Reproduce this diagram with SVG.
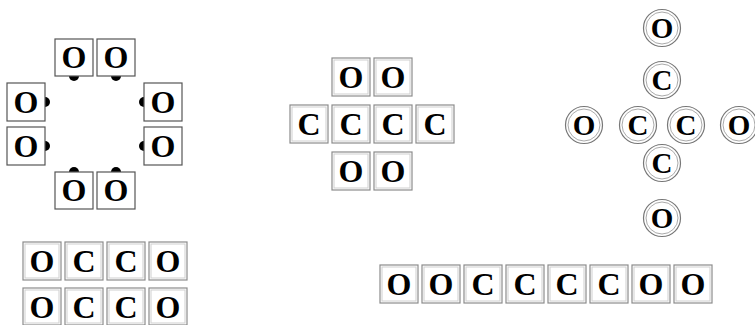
<svg xmlns="http://www.w3.org/2000/svg" width="755" height="325" viewBox="0 0 755 325">
<style>
.bg{fill:#fff}
.bo{fill:#fff;stroke:#8c8c8c;stroke-width:1.2}
.bi{fill:none;stroke:#cfcfcf;stroke-width:1}
.bd{fill:#fff;stroke:#555;stroke-width:1.2}
.co{fill:#fff;stroke:#777;stroke-width:1.2}
.ci{fill:none;stroke:#aaa;stroke-width:1}
.dot{fill:#000}
text{font-family:"Liberation Serif","Times New Roman",serif;font-weight:bold;font-size:32px;text-anchor:middle;fill:#000}
text.s{font-size:29px}
</style>
<rect class="bg" x="0" y="0" width="755" height="325"/>
<g id="connectors">
<circle class="dot" cx="74" cy="76" r="5"/>
<circle class="dot" cx="116" cy="76" r="5"/>
<circle class="dot" cx="45" cy="102" r="5"/>
<circle class="dot" cx="45" cy="146" r="5"/>
<circle class="dot" cx="144" cy="102" r="5"/>
<circle class="dot" cx="144" cy="146" r="5"/>
<circle class="dot" cx="74" cy="172" r="5"/>
<circle class="dot" cx="116" cy="172" r="5"/>
</g>
<!-- ring of O -->
<g id="ring-o1"><rect class="bd" x="55" y="39" width="38" height="37"/><text x="74" y="68">O</text></g>
<g id="ring-o2"><rect class="bd" x="97" y="39" width="38" height="37"/><text x="116" y="68">O</text></g>
<g id="ring-o3"><rect class="bd" x="7" y="83" width="38" height="38"/><text x="26" y="113">O</text></g>
<g id="ring-o4"><rect class="bd" x="7" y="127" width="38" height="38"/><text x="26" y="157">O</text></g>
<g id="ring-o5"><rect class="bd" x="144" y="83" width="38" height="38"/><text x="163" y="113">O</text></g>
<g id="ring-o6"><rect class="bd" x="144" y="127" width="38" height="38"/><text x="163" y="157">O</text></g>
<g id="ring-o7"><rect class="bd" x="55" y="172" width="38" height="37"/><text x="74" y="201">O</text></g>
<g id="ring-o8"><rect class="bd" x="97" y="172" width="38" height="37"/><text x="116" y="201">O</text></g>
<!-- middle cross -->
<g id="mid-o1"><rect class="bo" x="332" y="58" width="38" height="38"/><rect class="bi" x="334" y="60" width="34" height="34"/><text x="351" y="88">O</text></g>
<g id="mid-o2"><rect class="bo" x="374" y="58" width="38" height="38"/><rect class="bi" x="376" y="60" width="34" height="34"/><text x="393" y="88">O</text></g>
<g id="mid-c1"><rect class="bo" x="290" y="105" width="38" height="38"/><rect class="bi" x="292" y="107" width="34" height="34"/><text x="309" y="135">C</text></g>
<g id="mid-c2"><rect class="bo" x="332" y="105" width="38" height="38"/><rect class="bi" x="334" y="107" width="34" height="34"/><text x="351" y="135">C</text></g>
<g id="mid-c3"><rect class="bo" x="374" y="105" width="38" height="38"/><rect class="bi" x="376" y="107" width="34" height="34"/><text x="393" y="135">C</text></g>
<g id="mid-c4"><rect class="bo" x="416" y="105" width="38" height="38"/><rect class="bi" x="418" y="107" width="34" height="34"/><text x="435" y="135">C</text></g>
<g id="mid-o3"><rect class="bo" x="332" y="152" width="38" height="38"/><rect class="bi" x="334" y="154" width="34" height="34"/><text x="351" y="182">O</text></g>
<g id="mid-o4"><rect class="bo" x="374" y="152" width="38" height="38"/><rect class="bi" x="376" y="154" width="34" height="34"/><text x="393" y="182">O</text></g>
<!-- circles -->
<g id="cir-o1"><circle class="co" cx="662" cy="28" r="18.5"/><circle class="ci" cx="662" cy="28" r="16"/><text class="s" x="662" y="38">O</text></g>
<g id="cir-c1"><circle class="co" cx="662" cy="80" r="18.5"/><circle class="ci" cx="662" cy="80" r="16"/><text class="s" x="662" y="90">C</text></g>
<g id="cir-o2"><circle class="co" cx="584" cy="125" r="18.5"/><circle class="ci" cx="584" cy="125" r="16"/><text class="s" x="584" y="135">O</text></g>
<g id="cir-c2"><circle class="co" cx="638" cy="125" r="18.5"/><circle class="ci" cx="638" cy="125" r="16"/><text class="s" x="638" y="135">C</text></g>
<g id="cir-c3"><circle class="co" cx="686" cy="125" r="18.5"/><circle class="ci" cx="686" cy="125" r="16"/><text class="s" x="686" y="135">C</text></g>
<g id="cir-o3"><circle class="co" cx="739" cy="125" r="18.5"/><circle class="ci" cx="739" cy="125" r="16"/><text class="s" x="739" y="135">O</text></g>
<g id="cir-c4"><circle class="co" cx="662" cy="163" r="18.5"/><circle class="ci" cx="662" cy="163" r="16"/><text class="s" x="662" y="173">C</text></g>
<g id="cir-o4"><circle class="co" cx="662" cy="218" r="18.5"/><circle class="ci" cx="662" cy="218" r="16"/><text class="s" x="662" y="228">O</text></g>
<!-- bottom-left grid -->
<g id="grid-a1"><rect class="bo" x="23" y="242" width="38" height="38"/><rect class="bi" x="25" y="244" width="34" height="34"/><text x="42" y="272">O</text></g>
<g id="grid-a2"><rect class="bo" x="65" y="242" width="38" height="38"/><rect class="bi" x="67" y="244" width="34" height="34"/><text x="84" y="272">C</text></g>
<g id="grid-a3"><rect class="bo" x="107" y="242" width="38" height="38"/><rect class="bi" x="109" y="244" width="34" height="34"/><text x="126" y="272">C</text></g>
<g id="grid-a4"><rect class="bo" x="149" y="242" width="38" height="38"/><rect class="bi" x="151" y="244" width="34" height="34"/><text x="168" y="272">O</text></g>
<g id="grid-b1"><rect class="bo" x="23" y="288" width="38" height="37"/><rect class="bi" x="25" y="290" width="34" height="33"/><text x="42" y="318">O</text></g>
<g id="grid-b2"><rect class="bo" x="65" y="288" width="38" height="37"/><rect class="bi" x="67" y="290" width="34" height="33"/><text x="84" y="318">C</text></g>
<g id="grid-b3"><rect class="bo" x="107" y="288" width="38" height="37"/><rect class="bi" x="109" y="290" width="34" height="33"/><text x="126" y="318">C</text></g>
<g id="grid-b4"><rect class="bo" x="149" y="288" width="38" height="37"/><rect class="bi" x="151" y="290" width="34" height="33"/><text x="168" y="318">O</text></g>
<!-- bottom-right chain -->
<g id="chain-1"><rect class="bo" x="380" y="265" width="38" height="38"/><rect class="bi" x="382" y="267" width="34" height="34"/><text x="399" y="295">O</text></g>
<g id="chain-2"><rect class="bo" x="422" y="265" width="38" height="38"/><rect class="bi" x="424" y="267" width="34" height="34"/><text x="441" y="295">O</text></g>
<g id="chain-3"><rect class="bo" x="464" y="265" width="38" height="38"/><rect class="bi" x="466" y="267" width="34" height="34"/><text x="483" y="295">C</text></g>
<g id="chain-4"><rect class="bo" x="506" y="265" width="38" height="38"/><rect class="bi" x="508" y="267" width="34" height="34"/><text x="525" y="295">C</text></g>
<g id="chain-5"><rect class="bo" x="548" y="265" width="38" height="38"/><rect class="bi" x="550" y="267" width="34" height="34"/><text x="567" y="295">C</text></g>
<g id="chain-6"><rect class="bo" x="590" y="265" width="38" height="38"/><rect class="bi" x="592" y="267" width="34" height="34"/><text x="609" y="295">C</text></g>
<g id="chain-7"><rect class="bo" x="632" y="265" width="38" height="38"/><rect class="bi" x="634" y="267" width="34" height="34"/><text x="651" y="295">O</text></g>
<g id="chain-8"><rect class="bo" x="674" y="265" width="38" height="38"/><rect class="bi" x="676" y="267" width="34" height="34"/><text x="693" y="295">O</text></g>
</svg>
